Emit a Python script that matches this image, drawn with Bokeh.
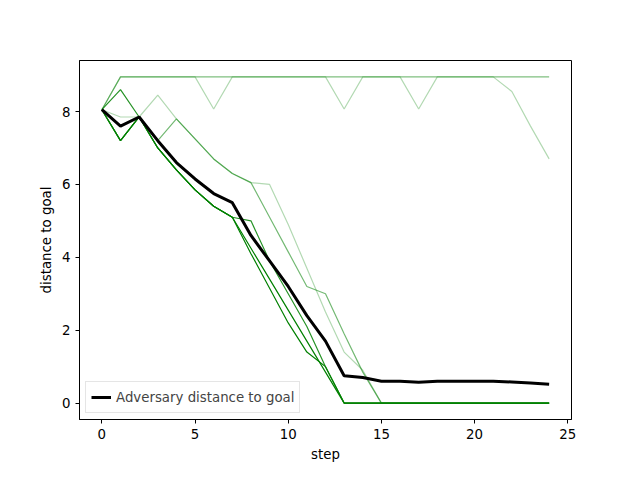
from bokeh.plotting import figure
from bokeh.embed import file_html
from bokeh.resources import INLINE
from bokeh.models import Range1d, FixedTicker, Legend, LegendItem

steps = list(range(25))
top1 = [8.05] + [8.95]*5 + [8.07] + [8.95]*6 + [8.07] + [8.95]*3 + [8.07] + [8.95]*4 + [8.55, 7.6, 6.7]
top2 = [8.05] + [8.95]*24
l1 = [8.05, 7.2, 7.85, 7.0, 6.4, 5.85, 5.4, 5.1, 4.25, 3.4, 2.55, 1.7, 0.85] + [0]*12
l2 = [8.05, 8.6, 7.85, 7.0, 6.4, 5.85, 5.4, 5.1, 5.0, 3.9, 3.0, 2.1, 1.0] + [0]*12
l3 = [8.05, 7.2, 7.85, 7.0, 6.4, 5.85, 5.4, 5.1, 4.1, 3.15, 2.2, 1.4, 1.0] + [0]*12
l4 = [8.05, 7.2, 7.85, 7.2, 7.8, 7.25, 6.7, 6.3, 6.05, 5.1, 4.15, 3.2, 3.0, 1.9, 0.85] + [0]*10
l5 = [8.05, 7.85, 7.85, 8.45, 7.8, 7.25, 6.7, 6.3, 6.05, 6.0, 4.9, 3.7, 2.5, 1.4, 0.9] + [0]*10
mean = [8.05, 7.6, 7.85, 7.2, 6.6, 6.15, 5.75, 5.5, 4.6, 3.9, 3.2, 2.4, 1.7, 0.75, 0.7,
        0.6, 0.6, 0.57, 0.6, 0.6, 0.6, 0.6, 0.58, 0.55, 0.52]

p = figure(width=624, height=464, output_backend="svg", toolbar_location=None,
           x_range=Range1d(-1.2, 25.2), y_range=Range1d(-0.45, 9.4),
           min_border_left=79, min_border_right=53, min_border_top=60, min_border_bottom=36)
p.grid.visible = False
p.outline_line_color = "black"
for a in (p.xaxis[0], p.yaxis[0]):
    a.major_label_text_font = "DejaVu Sans"
    a.major_label_text_font_size = "10pt"
    a.major_label_text_color = "black"
    a.axis_label_text_font = "DejaVu Sans"
    a.axis_label_text_font_size = "10pt"
    a.axis_label_text_font_style = "normal"
    a.axis_label_text_color = "black"
    a.axis_line_color = "black"
    a.major_tick_line_color = "black"
    a.minor_tick_line_color = None
    a.major_tick_in = 0
    a.major_tick_out = 4
p.xaxis.axis_label = "step"
p.yaxis.axis_label = "distance to goal"
p.xaxis.ticker = FixedTicker(ticks=[0, 5, 10, 15, 20, 25])
p.yaxis.ticker = FixedTicker(ticks=[0, 2, 4, 6, 8])

for ys, al in [(top1, 0.3), (top2, 0.5), (l5, 0.3), (l4, 0.55), (l2, 0.85), (l3, 1.0), (l1, 1.0)]:
    p.line(steps, ys, line_color="#008000", line_alpha=al, line_width=1.2)
r = p.line(steps, mean, line_color="black", line_width=3)
leg = Legend(items=[LegendItem(label="Adversary distance to goal", renderers=[r])],
             location="bottom_left", label_text_font="DejaVu Sans", label_text_font_size="10pt",
             border_line_color="#cccccc", padding=5, spacing=0, margin=6)
p.add_layout(leg)
open("out.html", "w").write(file_html(p, INLINE))
